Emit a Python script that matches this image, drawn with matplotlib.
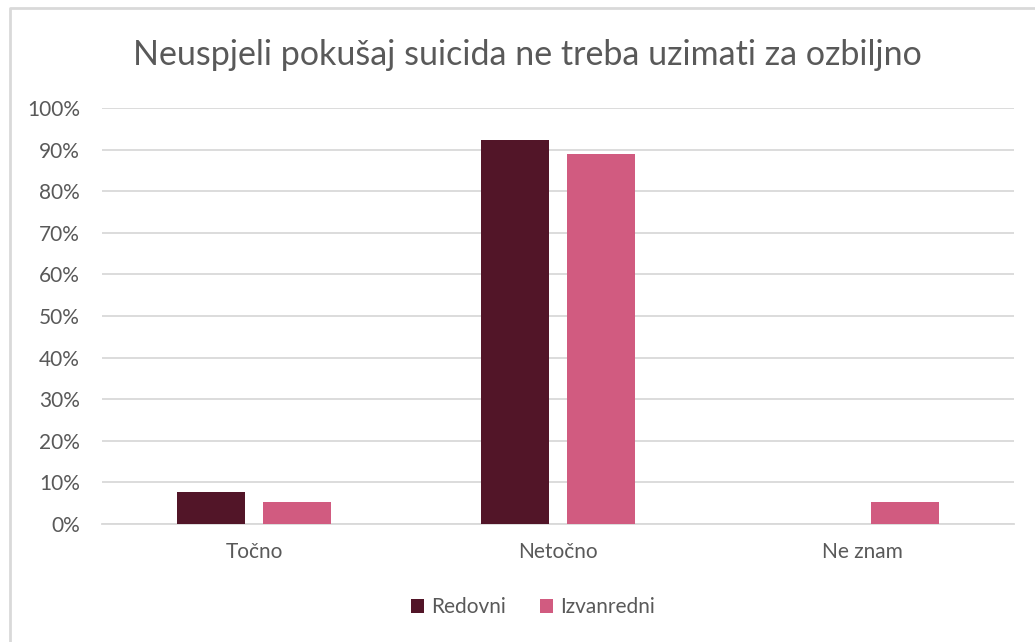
import matplotlib
matplotlib.use("Agg")
import matplotlib.pyplot as plt
from matplotlib.lines import Line2D
import numpy as np

categories = ["Točno", "Netočno", "Ne znam"]
series_names = ["Redovni", "Izvanredni"]
redovni = [7.8, 92.2, 0.0]
izvanredni = [5.3, 89.0, 5.3]
colors = ["#521528", "#D15B80"]

plt.rcParams["font.family"] = ["Lato", "DejaVu Sans"]

W, H = 1035, 642
fig = plt.figure(figsize=(W / 100, H / 100), dpi=100)
ax = fig.add_axes([102 / W, 1 - 524 / H, 912 / W, 416 / H])

# outer chart frame (only left and top edges are visible)
fig.lines.append(Line2D([9.5 / W, 9.5 / W, 1.0], [0.0, 1 - 8 / H, 1 - 8 / H],
                        transform=fig.transFigure, color="#D9D9D9", linewidth=2))

x = np.arange(len(categories))
w = 0.224
off = 0.1414
ax.bar(x - off, redovni, w, color=colors[0], label=series_names[0], zorder=3)
ax.bar(x + off, izvanredni, w, color=colors[1], label=series_names[1], zorder=3)

ax.set_xlim(-0.5, 2.5)
ax.set_ylim(0, 100)
ax.set_yticks(range(0, 101, 10))
ax.set_yticklabels([f"{v}%" for v in range(0, 101, 10)])
ax.set_xticks(x)
ax.set_xticklabels(categories)
ax.yaxis.grid(True, color="#D9D9D9", linewidth=1.3, zorder=0)
for s in ax.spines.values():
    s.set_visible(False)
ax.spines["bottom"].set_visible(True)
ax.spines["bottom"].set_color("#D9D9D9")
ax.spines["bottom"].set_linewidth(1.3)
ax.tick_params(axis="both", length=0, labelsize=15, labelcolor="#595959")
ax.tick_params(axis="x", pad=13)
ax.tick_params(axis="y", pad=16)

fig.text(527 / W, 1 - 65 / H, "Neuspjeli pokušaj suicida ne treba uzimati za ozbiljno",
         ha="center", va="baseline", fontsize=24.5, color="#595959")

fig.legend(loc="center", bbox_to_anchor=(533 / W, 1 - 607 / H), ncol=2, frameon=False,
           fontsize=15, labelcolor="#595959", handlelength=0.65, handleheight=0.65,
           handletextpad=0.35, columnspacing=1.6)

fig.savefig("out.png", dpi=100)
